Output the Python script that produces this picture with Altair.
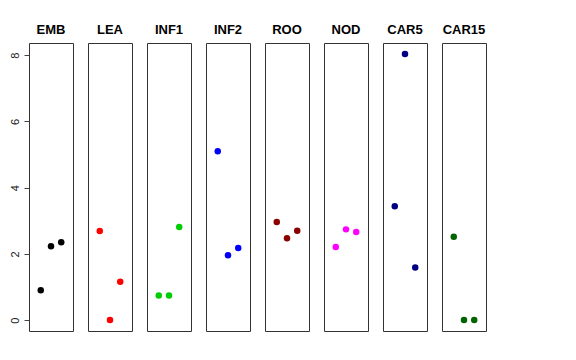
import altair as alt
import pandas as pd

groups = ["EMB", "LEA", "INF1", "INF2", "ROO", "NOD", "CAR5", "CAR15"]
colors = ["#000000", "#FF0000", "#00CD00", "#0000FF", "#8B0000", "#FF00FF", "#000080", "#006400"]
emb = [0.90, 2.23, 2.35]
lea = [2.69, 0.00, 1.16]
inf1 = [0.74, 0.74, 2.81]
inf2 = [5.10, 1.96, 2.18]
roo = [2.96, 2.47, 2.70]
nod = [2.21, 2.74, 2.66]
car5 = [3.44, 8.04, 1.59]
car15 = [2.52, 0.00, 0.00]
positions = [1, 2, 3]
y_ticks = [0, 2, 4, 6, 8]

series = [emb, lea, inf1, inf2, roo, nod, car5, car15]
rows = []
for g, vals in zip(groups, series):
    for p, v in zip(positions, vals):
        rows.append({"group": g, "pos": p, "value": v})
df = pd.DataFrame(rows)

chart = alt.Chart(df).mark_circle(size=42, opacity=1).encode(
    x=alt.X("pos:Q", scale=alt.Scale(domain=[-0.15, 4.15], nice=False, zero=False), axis=None),
    y=alt.Y("value:Q", scale=alt.Scale(domain=[-0.33, 8.37], nice=False, zero=False),
            axis=alt.Axis(title=None, values=y_ticks, grid=False, domain=False,
                          tickColor="#444", tickSize=5, labelAngle=270,
                          labelAlign="center", labelBaseline="bottom",
                          labelPadding=4, labelFontSize=11, labelColor="#222",
                          labelFont="Liberation Sans")),
    color=alt.Color("group:N", scale=alt.Scale(domain=groups, range=colors), legend=None),
).properties(width=44, height=288).facet(
    column=alt.Column("group:N", sort=groups,
                      header=alt.Header(title=None, labelFontWeight="bold", labelFontSize=13,
                                        labelFont="Liberation Sans", labelColor="black",
                                        labelPadding=6)),
    spacing=15,
    bounds="flush",
).configure(
    padding={"left": 0, "top": 16, "right": 5, "bottom": 5}
).configure_view(stroke="#333", strokeWidth=1)

chart.save("out.html", embed_options={"renderer": "svg", "actions": False})
